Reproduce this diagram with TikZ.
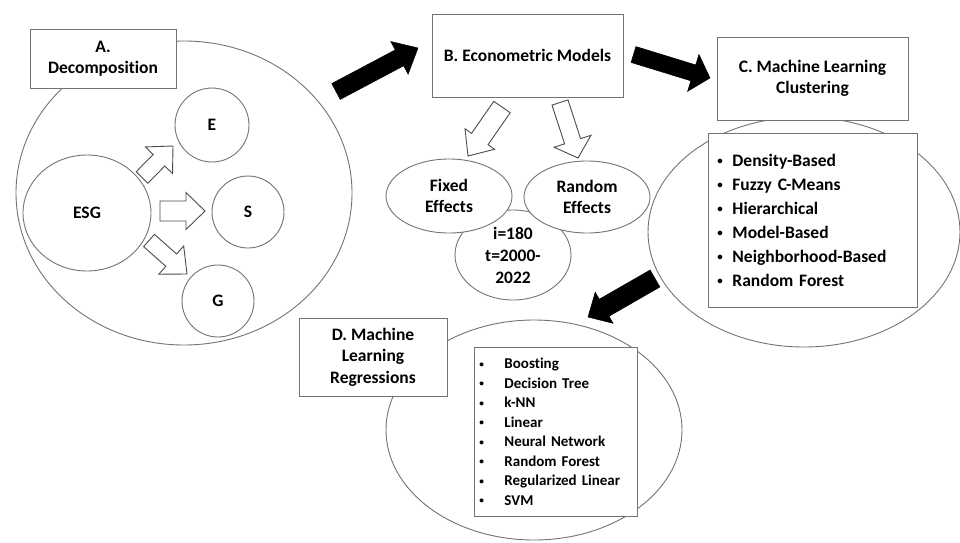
\documentclass[tikz,border=0pt]{standalone}
\usepackage{fontspec}
\setmainfont{Carlito}[Ligatures={NoCommon}]
\usetikzlibrary{calc,shapes.geometric}
\newcommand\blockarrow[6]{% #1 style, #2 tail, #3 tip, #4 half shaft, #5 half head, #6 head length
  \coordinate (ba-h) at ($(#3)!#6!(#2)$);
  \draw[#1] ($(#2)!#4!90:(#3)$) -- ($(ba-h)!#4!90:(#3)$) -- ($(ba-h)!#5!90:(#3)$) -- (#3)
    -- ($(ba-h)!#5!-90:(#3)$) -- ($(ba-h)!#4!-90:(#3)$) -- ($(#2)!#4!-90:(#3)$) -- cycle;}
\newcommand\smbullet{\raisebox{0.12em}{\scalebox{0.62}{\textbullet}}}
\newcommand\itmC[1]{\makebox[17pt][l]{\hspace{2pt}\smbullet}#1}
\newcommand\itmD[1]{\makebox[27pt][l]{\hspace{2pt}\smbullet}#1}
\tikzset{
  outl/.style={draw=black!55, line width=0.9pt},
  ell/.style={outl, ellipse, fill=white, inner sep=0pt, font=\fontsize{17.5}{21}\bfseries\selectfont, align=center},
  circ/.style={outl, circle, fill=white, inner sep=0pt, font=\fontsize{17.5}{21}\bfseries\selectfont},
  titlebox/.style={outl, rectangle, fill=white, inner sep=0pt, align=center, font=\fontsize{17.5}{21.5}\bfseries\selectfont},
  listbox/.style={outl, rectangle, fill=white, anchor=north west, align=left},
  whitearrow/.style={draw=black!70, line width=0.9pt, fill=white, line join=miter},
  blackarrow/.style={draw=black, fill=black, line width=0.5pt, line join=miter}
}
\begin{document}
\begin{tikzpicture}[x=1pt,y=-1pt]
\useasboundingbox (0,0) rectangle (960,542);
% ---------- A ----------
\node[ell, minimum width=336pt, minimum height=304pt] (bigA) at (184,193) {};
\node[titlebox, minimum width=146pt, minimum height=59pt] (boxA) at (103,58.5) {A.\\Decomposition};
\node[ell, minimum width=128pt, minimum height=116pt] (esg) at (87,213) {ESG};
\node[circ, minimum size=74pt] (e) at (212,125) {E};
\node[circ, minimum size=72pt] (s) at (248,212) {S};
\node[circ, minimum size=72pt] (g) at (218,301) {G};
\coordinate (aE1) at (142,177.5); \coordinate (aE2) at (173,146);
\coordinate (aS1) at (160,211);   \coordinate (aS2) at (205,211);
\coordinate (aG1) at (149,240.5); \coordinate (aG2) at (187,274);
\blockarrow{whitearrow}{aE1}{aE2}{8.2pt}{19pt}{20pt}
\blockarrow{whitearrow}{aS1}{aS2}{10pt}{18.5pt}{19pt}
\blockarrow{whitearrow}{aG1}{aG2}{8.2pt}{18.8pt}{21pt}
% ---------- B ----------
\coordinate (kAB1) at (336,91.5); \coordinate (kAB2) at (418,48);
\blockarrow{blackarrow}{kAB1}{kAB2}{9pt}{18.5pt}{21pt}
\node[titlebox, minimum width=191pt, minimum height=83pt] (boxB) at (527.5,55.5) {B. Econometric Models};
\node[ell, minimum width=116pt, minimum height=90pt, anchor=center] (iell) at (513,255) {};
\node[ell, minimum width=126pt, minimum height=74pt] (fixed) at (449,196) {Fixed\\Effects};
\node[ell, minimum width=126pt, minimum height=72pt] (random) at (587,197) {Random\\Effects};
\node[font=\fontsize{17.5}{22}\bfseries\selectfont, align=center] (itext) at (513,255) {i=180\\t=2000-\\2022};
\coordinate (aF1) at (502,107); \coordinate (aF2) at (468,156);
\coordinate (aR1) at (560,102.5); \coordinate (aR2) at (578,158);
\blockarrow{whitearrow}{aF1}{aF2}{10pt}{18pt}{20.7pt}
\blockarrow{whitearrow}{aR1}{aR2}{8.4pt}{19.4pt}{17.6pt}
% ---------- C ----------
\node[ell, minimum width=312pt, minimum height=230pt] (ellC) at (804,232) {};
\node[titlebox, minimum width=191pt, minimum height=83pt] (boxC) at (812.5,78.5) {C. Machine Learning\\Clustering};
\node[listbox, minimum width=209pt, minimum height=174pt, text width=195pt, inner xsep=7pt, inner ysep=0pt,
      font=\fontsize{17.5}{24}\bfseries\selectfont] (listC) at (708,133)
  {\itmC{Density-Based}\\\itmC{Fuzzy C-Means}\\\itmC{Hierarchical}\\\itmC{Model-Based}\\\itmC{Neighborhood-Based}\\\itmC{Random Forest}};
\coordinate (kBC1) at (633.5,54.5); \coordinate (kBC2) at (710,78);
\blockarrow{blackarrow}{kBC1}{kBC2}{8.3pt}{19.3pt}{17.5pt}
% ---------- D ----------
\node[ell, minimum width=296pt, minimum height=220pt] (ellD) at (534,430) {};
\node[titlebox, minimum width=148pt, minimum height=78pt] (boxD) at (373,357) {D. Machine\\Learning\\Regressions};
\node[listbox, minimum width=163pt, minimum height=169pt, text width=157pt, inner xsep=3pt, inner ysep=0pt,
      font=\fontsize{15}{19.5}\bfseries\selectfont] (listD) at (474,347)
  {\itmD{Boosting}\\\itmD{Decision Tree}\\\itmD{k-NN}\\\itmD{Linear}\\\itmD{Neural Network}\\\itmD{Random Forest}\\\itmD{Regularized Linear}\\\itmD{SVM}};
\coordinate (kCD1) at (655,278.5); \coordinate (kCD2) at (588,317);
\blockarrow{blackarrow}{kCD1}{kCD2}{9.8pt}{17.9pt}{18.6pt}
\end{tikzpicture}
\end{document}
